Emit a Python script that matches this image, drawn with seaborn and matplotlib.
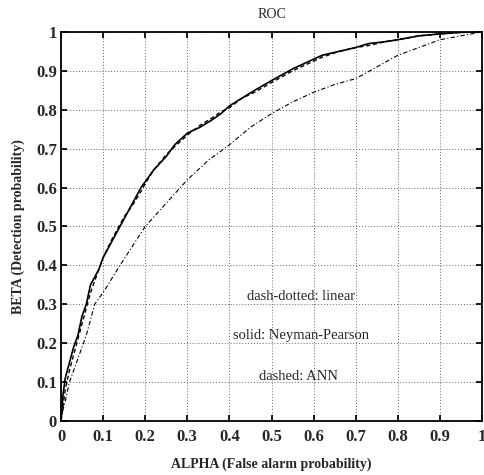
import matplotlib
matplotlib.use("Agg")
import matplotlib.pyplot as plt
import seaborn as sns
import pandas as pd

# Neyman-Pearson (solid)
alpha_np = [0, 0.005, 0.01, 0.02, 0.03, 0.04, 0.05, 0.06, 0.07, 0.08, 0.09, 0.10, 0.12, 0.15,
            0.17, 0.19, 0.20, 0.22, 0.25, 0.27, 0.30, 0.33, 0.36, 0.38, 0.40, 0.43, 0.46, 0.50,
            0.55, 0.60, 0.62, 0.66, 0.70, 0.73, 0.77, 0.80, 0.85, 0.90, 0.95, 1.0]
beta_np = [0, 0.07, 0.11, 0.15, 0.19, 0.22, 0.27, 0.30, 0.35, 0.37, 0.39, 0.42, 0.46, 0.52,
           0.56, 0.60, 0.615, 0.645, 0.68, 0.71, 0.74, 0.755, 0.775, 0.79, 0.81, 0.83, 0.85, 0.875,
           0.905, 0.93, 0.94, 0.95, 0.96, 0.97, 0.975, 0.98, 0.99, 0.995, 0.999, 1.0]
# ANN (dashed)
alpha_ann = [0, 0.005, 0.01, 0.02, 0.03, 0.04, 0.05, 0.06, 0.07, 0.08, 0.09, 0.10, 0.12, 0.15,
             0.17, 0.19, 0.20, 0.22, 0.25, 0.27, 0.30, 0.33, 0.36, 0.38, 0.40, 0.43, 0.46, 0.50,
             0.55, 0.60, 0.62, 0.66, 0.70, 0.73, 0.77, 0.80, 0.85, 0.90, 0.95, 1.0]
beta_ann = [0, 0.04, 0.08, 0.13, 0.17, 0.21, 0.25, 0.29, 0.33, 0.36, 0.39, 0.42, 0.465, 0.525,
            0.555, 0.59, 0.61, 0.645, 0.685, 0.705, 0.735, 0.76, 0.78, 0.795, 0.805, 0.83, 0.845, 0.87,
            0.90, 0.925, 0.935, 0.95, 0.96, 0.965, 0.975, 0.98, 0.99, 0.995, 0.999, 1.0]
# linear (dash-dotted)
alpha_lin = [0, 0.005, 0.01, 0.02, 0.04, 0.06, 0.08, 0.10, 0.14, 0.20, 0.25, 0.30, 0.35, 0.40,
             0.45, 0.50, 0.55, 0.60, 0.65, 0.70, 0.75, 0.80, 0.85, 0.90, 0.95, 1.0]
beta_lin = [0, 0.03, 0.05, 0.10, 0.16, 0.22, 0.30, 0.33, 0.40, 0.50, 0.56, 0.62, 0.67, 0.71,
            0.755, 0.79, 0.82, 0.845, 0.865, 0.88, 0.91, 0.94, 0.96, 0.98, 0.99, 1.0]

ticks = [0, 0.1, 0.2, 0.3, 0.4, 0.5, 0.6, 0.7, 0.8, 0.9, 1]
tick_labels = ["0", "0.1", "0.2", "0.3", "0.4", "0.5", "0.6", "0.7", "0.8", "0.9", "1"]
notes = ["dash-dotted: linear", "solid: Neyman-Pearson", "dashed: ANN"]

sns.set_theme(style="white")
plt.rcParams['font.family'] = ['Liberation Serif', 'DejaVu Serif']

fig = plt.figure(figsize=(4.85, 4.75), dpi=100)
ax = fig.add_axes([0.1258, 0.1137, 0.868, 0.819])

df_np = pd.DataFrame({"a": alpha_np, "b": beta_np})
df_ann = pd.DataFrame({"a": alpha_ann, "b": beta_ann})
df_lin = pd.DataFrame({"a": alpha_lin, "b": beta_lin})

sns.lineplot(data=df_lin, x="a", y="b", sort=False, ax=ax, color="black", lw=0.8,
             linestyle=(0, (4, 2, 1, 2)))
sns.lineplot(data=df_ann, x="a", y="b", sort=False, ax=ax, color="black", lw=1.0,
             linestyle=(0, (3, 2)))
sns.lineplot(data=df_np, x="a", y="b", sort=False, ax=ax, color="black", lw=1.2)

ax.set_xlim(0, 1)
ax.set_ylim(0, 1)
ax.set_xticks(ticks)
ax.set_xticklabels(tick_labels, fontsize=12, fontweight="bold")
ax.set_yticks(ticks)
ax.set_yticklabels(tick_labels, fontsize=12, fontweight="bold")
ax.tick_params(axis="both", direction="in", length=4, color="black", pad=3,
               top=True, right=True, bottom=True, left=True)
ax.tick_params(axis="x", pad=6)
ax.grid(True, linestyle=(0, (1, 2)), color="#666666", lw=0.7)
for s in ax.spines.values():
    s.set_color("black")
    s.set_linewidth(1.3)
    s.set_visible(True)

ax.set_title("ROC", fontsize=10, pad=10)
ax.set_xlabel("ALPHA (False alarm probability)", fontsize=10, fontweight="bold", labelpad=9)
ax.set_ylabel("BETA (Detection probability)", fontsize=10, fontweight="bold", labelpad=8)

ax.text(0.57, 0.32, notes[0], fontsize=10.5, ha="center", va="center")
ax.text(0.57, 0.22, notes[1], fontsize=10.5, ha="center", va="center")
ax.text(0.565, 0.115, notes[2], fontsize=10.5, ha="center", va="center")

fig.savefig("out.png", dpi=100)
